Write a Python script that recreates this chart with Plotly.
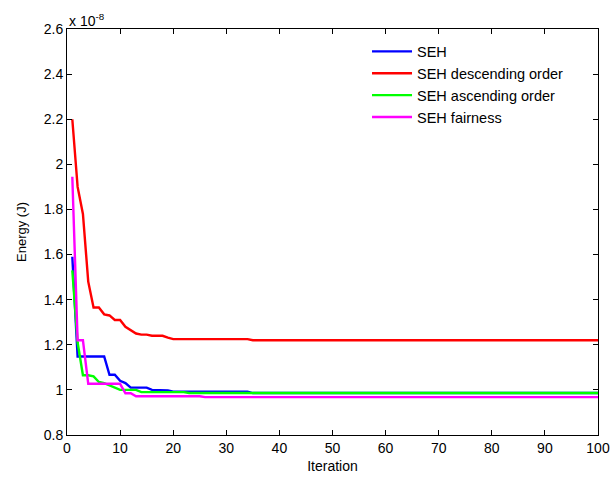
import plotly.graph_objects as go

# Data (energy in units of 1e-8 J)
seh_x = [1, 2, 7, 8, 9, 10, 11, 12, 15, 16, 19, 20, 34, 35, 100]
seh_y = [1.59, 1.148, 1.148, 1.067, 1.067, 1.04, 1.03, 1.01, 1.01, 1.0, 0.998, 0.992, 0.992, 0.986, 0.986]

desc_x = [1, 2, 3, 4, 5, 6, 7, 8, 9, 10, 11, 12, 13, 14, 15, 16, 18, 19, 20, 34, 35, 100]
desc_y = [2.20, 1.90, 1.78, 1.48, 1.365, 1.365, 1.335, 1.33, 1.31, 1.31, 1.28, 1.265, 1.25, 1.245,
          1.245, 1.24, 1.24, 1.232, 1.225, 1.225, 1.22, 1.22]

asc_x = [1, 2, 3, 4, 5, 6, 7, 8, 9, 10, 13, 14, 22, 23, 100]
asc_y = [1.53, 1.21, 1.065, 1.065, 1.06, 1.035, 1.03, 1.02, 1.012, 1.0, 1.0, 0.99, 0.99, 0.986, 0.986]

fair_x = [1, 2, 3, 4, 10, 11, 12, 13, 25, 26, 100]
fair_y = [1.945, 1.22, 1.22, 1.027, 1.027, 0.985, 0.985, 0.972, 0.972, 0.968, 0.968]

series = [
    ("SEH", seh_x, seh_y, "#0000ff"),
    ("SEH descending order", desc_x, desc_y, "#ff0000"),
    ("SEH ascending order", asc_x, asc_y, "#00ff00"),
    ("SEH fairness", fair_x, fair_y, "#ff00ff"),
]

x_ticks = list(range(0, 101, 10))
y_ticks = [0.8, 1.0, 1.2, 1.4, 1.6, 1.8, 2.0, 2.2, 2.4, 2.6]
y_tick_labels = ["0.8", "1", "1.2", "1.4", "1.6", "1.8", "2", "2.2", "2.4", "2.6"]

fig = go.Figure()
for name, xs, ys, color in series:
    fig.add_trace(go.Scatter(x=xs, y=ys, mode="lines", name=name,
                             line=dict(color=color, width=2.4)))

FAM = "Liberation Sans, Arial, sans-serif"
font = dict(family=FAM, size=14, color="#000")
axis_common = dict(showline=True, linecolor="#000", linewidth=1, mirror="ticks",
                   ticks="inside", ticklen=5, tickcolor="#000", showgrid=False,
                   zeroline=False, tickfont=font, automargin=False)

fig.update_layout(
    width=613, height=481,
    margin=dict(l=67, r=15, t=29, b=46),
    paper_bgcolor="#fff", plot_bgcolor="#fff",
    font=font,
    showlegend=True,
    legend=dict(x=0.565, y=0.984, xanchor="left", yanchor="top",
                bgcolor="rgba(255,255,255,0)", borderwidth=0,
                font=dict(family=FAM, size=14.5, color="#000"),
                itemwidth=40),
    xaxis=dict(range=[0, 100], tickvals=x_ticks,
               title=dict(text="Iteration", font=font, standoff=6), **axis_common),
    yaxis=dict(range=[0.8, 2.6], tickvals=y_ticks, ticktext=y_tick_labels,
               title=dict(text="Energy (J)", font=dict(family=FAM, size=13, color="#000"),
                          standoff=14), **axis_common),
)

fig.add_annotation(x=0, y=1, xref="paper", yref="paper", xanchor="left", yanchor="bottom",
                   text="x 10<sup>-8</sup>", showarrow=False, font=font, yshift=-2)

fig.write_html("out.html")
